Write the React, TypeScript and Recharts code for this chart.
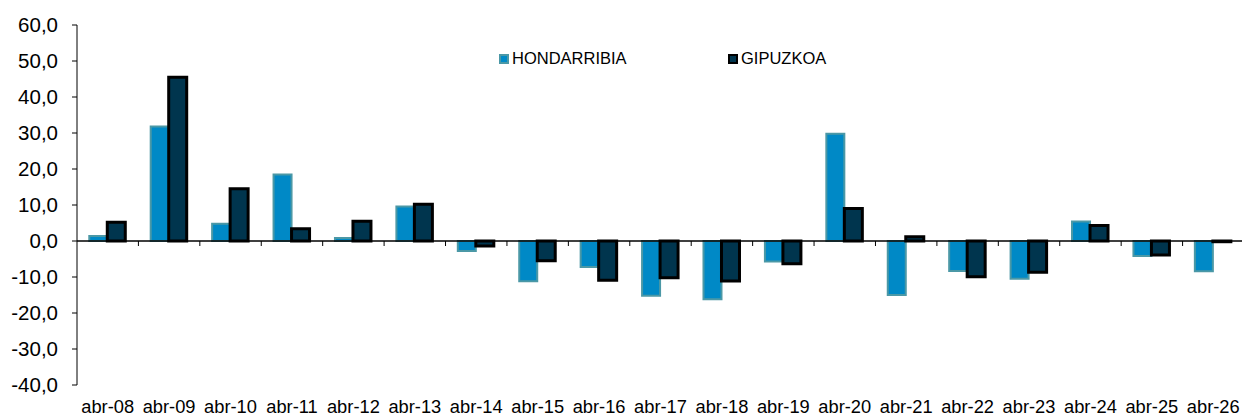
import { BarChart, Bar, XAxis, YAxis, ReferenceLine, Legend } from 'recharts';

const CATEGORIES = [
  'abr-08', 'abr-09', 'abr-10', 'abr-11', 'abr-12', 'abr-13', 'abr-14', 'abr-15', 'abr-16', 'abr-17',
  'abr-18', 'abr-19', 'abr-20', 'abr-21', 'abr-22', 'abr-23', 'abr-24', 'abr-25', 'abr-26',
];
const HONDARRIBIA = [1.4, 31.8, 4.8, 18.5, 0.8, 9.6, -2.8, -11.2, -7.2, -15.2, -16.2, -5.7, 29.8, -15.0, -8.3, -10.5, 5.4, -4.2, -8.4];
const GIPUZKOA = [5.2, 45.5, 14.5, 3.4, 5.5, 10.2, -1.4, -5.5, -10.9, -10.2, -11.1, -6.3, 9.0, 1.2, -9.9, -8.7, 4.3, -3.9, -0.2];
const Y_TICKS = [-40, -30, -20, -10, 0, 10, 20, 30, 40, 50, 60];

const FONT = '"Liberation Sans", Arial, sans-serif';
const CHART_W = 1246;
const CHART_H = 416;
const MARGIN = { top: 25, right: 2, left: 0, bottom: 0 };
const Y_AXIS_W = 77;
const X_AXIS_H = 31;
const PLOT_W = CHART_W - Y_AXIS_W - MARGIN.left - MARGIN.right;
const PLOT_H = CHART_H - MARGIN.top - MARGIN.bottom - X_AXIS_H;
const Y_MIN = -40;
const Y_MAX = 60;
const ZERO_Y = MARGIN.top + (PLOT_H * Y_MAX) / (Y_MAX - Y_MIN);

const SERIES = [
  { key: 'hondarribia', name: 'HONDARRIBIA', fill: '#0089c6', stroke: '#4b98a6', width: 2 },
  { key: 'gipuzkoa', name: 'GIPUZKOA', fill: '#00354e', stroke: '#000000', width: 3 },
];

const data = CATEGORIES.map((cat, i) => ({
  cat,
  hondarribia: HONDARRIBIA[i],
  gipuzkoa: GIPUZKOA[i],
}));

const fmt = (v: number) => v.toFixed(1).replace('.', ',');

function XTick(props: any) {
  const { x, y, payload, index } = props;
  const bw = PLOT_W / CATEGORIES.length;
  const left = x - bw / 2;
  const right = x + bw / 2;
  return (
    <g>
      {index > 0 && <line x1={left} x2={left} y1={ZERO_Y} y2={ZERO_Y + 5} stroke="#000" />}
      {index === CATEGORIES.length - 1 && (
        <line x1={right} x2={right} y1={ZERO_Y} y2={ZERO_Y + 5} stroke="#000" />
      )}
      <text x={x} y={y} dy="0.71em" textAnchor="middle" fontSize={18.3} fontFamily={FONT} fill="#000">
        {payload.value}
      </text>
    </g>
  );
}

function YTick(props: any) {
  const { x, y, payload } = props;
  return (
    <text x={x} y={y} dy="0.355em" textAnchor="end" fontSize={20.5} fontFamily={FONT} fill="#000">
      {fmt(payload.value)}
    </text>
  );
}

function LegendContent() {
  return (
    <div style={{ display: 'flex', fontFamily: FONT, fontSize: 16.5, color: '#000' }}>
      {SERIES.map((s) => (
        <div key={s.key} style={{ display: 'flex', alignItems: 'center', width: 229 }}>
          <span
            style={{
              display: 'inline-block',
              width: 6,
              height: 6,
              background: s.fill,
              border: `2px solid ${s.stroke}`,
              marginRight: 3,
            }}
          />
          <span>{s.name}</span>
        </div>
      ))}
    </div>
  );
}

export default function App() {
  return (
    <div style={{ position: 'absolute', left: 0, top: 0, width: 1242, height: 416, overflow: 'hidden', background: '#fff' }}>
      <BarChart
        width={CHART_W}
        height={CHART_H}
        data={data}
        margin={MARGIN}
        barCategoryGap="20%"
        barGap={0}
      >
        <XAxis
          dataKey="cat"
          axisLine={false}
          tickLine={false}
          tickSize={0}
          tickMargin={15}
          height={X_AXIS_H}
          interval={0}
          tick={(p: any) => <XTick {...p} />}
        />
        <YAxis
          width={Y_AXIS_W}
          domain={[Y_MIN, Y_MAX]}
          ticks={Y_TICKS}
          interval={0}
          axisLine={{ stroke: '#000' }}
          tickLine={{ stroke: '#000' }}
          tickSize={5}
          tickMargin={14}
          tick={(p: any) => <YTick {...p} />}
        />
        <Legend
          layout="vertical"
          verticalAlign="middle"
          align="center"
          content={() => <LegendContent />}
          wrapperStyle={{ left: 499, top: 49, width: 'auto' }}
        />
        {SERIES.map((s) => (
          <Bar
            key={s.key}
            dataKey={s.key}
            name={s.name}
            fill={s.fill}
            stroke={s.stroke}
            strokeWidth={s.width}
            isAnimationActive={false}
          />
        ))}
        <ReferenceLine y={0} stroke="#000" strokeWidth={1.5} />
      </BarChart>
    </div>
  );
}
